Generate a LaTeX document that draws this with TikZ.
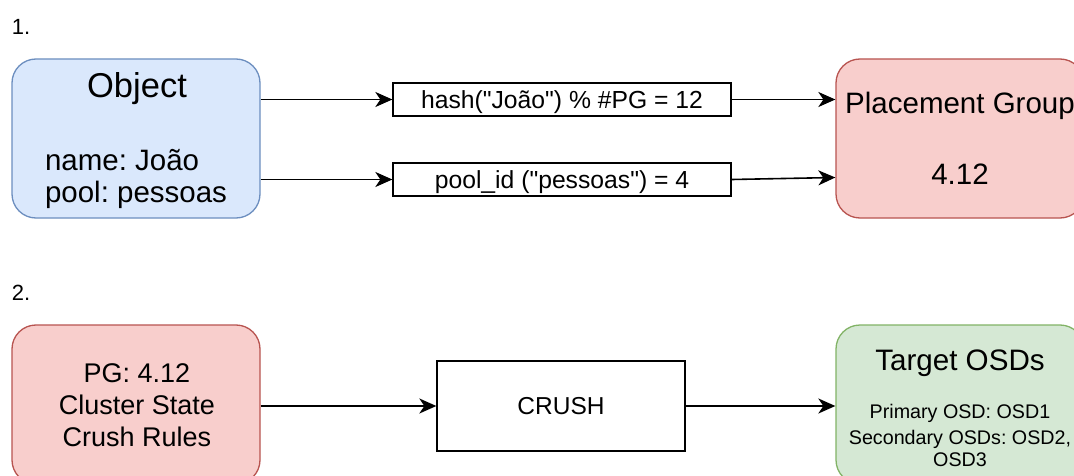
\documentclass[tikz,border=0pt]{standalone}
\usepackage{fontspec}
\setmainfont{Liberation Sans}[Ligatures=TeXOff]
\usetikzlibrary{arrows.meta}
\definecolor{bluefill}{HTML}{DAE8FC}
\definecolor{bluedraw}{HTML}{6C8EBF}
\definecolor{redfill}{HTML}{F8CECC}
\definecolor{reddraw}{HTML}{B85450}
\definecolor{greenfill}{HTML}{D5E8D4}
\definecolor{greendraw}{HTML}{82B366}
\newcommand\fsz[1]{\fontsize{#1}{#1}\selectfont}
\frenchspacing
\tikzset{
  bigbox/.style={rectangle, rounded corners=24pt, minimum width=248pt, minimum height=159pt, inner sep=0pt, line width=1.3pt},
  bluebox/.style={bigbox, fill=bluefill, draw=bluedraw},
  redbox/.style={bigbox, fill=redfill, draw=reddraw},
  greenbox/.style={bigbox, fill=greenfill, draw=greendraw},
  plainbox/.style={rectangle, draw=black, fill=white, line width=1.3pt, inner sep=0pt},
  txt/.style={inner sep=0pt, outer sep=0pt, anchor=base, text=black},
  txtl/.style={txt, anchor=base west},
  arr/.style={line width=1.6pt, draw=black, -{Stealth[length=17pt,width=15pt,inset=5pt]}},
}
\begin{document}
\begin{tikzpicture}[x=1pt,y=-1pt]
\clip (0,0) rectangle (1074,476);
\fill[white] (0,0) rectangle (1074,476);

% section labels
\node[txtl, font=\fsz{22}] (lab1) at (12,35) {1.};
\node[txtl, font=\fsz{22}] (lab2) at (12,300) {2.};

% boxes row 1
\node[bluebox] (obj) at (136,138.5) {};
\node[redbox] (pg) at (960,138.5) {};
\node[plainbox, minimum width=338pt, minimum height=33pt] (h1) at (562,99.5) {};
\node[plainbox, minimum width=338pt, minimum height=33pt] (h2) at (562,179.5) {};

% boxes row 2
\node[redbox] (pg2) at (136,404.5) {};
\node[plainbox, minimum width=248pt, minimum height=90pt] (crush) at (561,406) {};
\node[greenbox] (osd) at (960,404.5) {};

% texts row 1
\node[txt, font=\fsz{34.5}] (objT) at (137,98) {Object};
\node[txtl, font=\fsz{29.5}] (objN) at (45,171) {name: João};
\node[txtl, font=\fsz{29.5}] (objP) at (45,203) {pool: pessoas};
\node[txt, font=\fsz{24.7}] (h1T) at (562,109) {hash("João") \% \#PG = 12};
\node[txt, font=\fsz{24.7}] (h2T) at (562,189) {pool\_id ("pessoas") = 4};
\node[txt, font=\fsz{29.5}] (pgT) at (960,114) {Placement Group};
\node[txt, font=\fsz{29.5}] (pgN) at (960,185) {4.12};

% texts row 2
\node[txt, font=\fsz{27}] (pg2a) at (137,382) {PG: 4.12};
\node[txt, font=\fsz{27}] (pg2b) at (137,414) {Cluster State};
\node[txt, font=\fsz{27}] (pg2c) at (137,446) {Crush Rules};
\node[txt, font=\fsz{24.5}] (crushT) at (561,414) {CRUSH};
\node[txt, font=\fsz{29.6}] (osdT) at (960,370) {Target OSDs};
\node[txt, font=\fsz{19.7}] (osda) at (960,418) {Primary OSD: OSD1};
\node[txt, font=\fsz{19.7}] (osdb) at (960,444) {Secondary OSDs: OSD2,};
\node[txt, font=\fsz{19.7}] (osdc) at (960,466) {OSD3};

% connectors
\draw[arr] (h1.west -| obj.east) -- (h1.west);
\draw[arr] (h2.west -| obj.east) -- (h2.west);
\draw[arr] (h1.east) -- (h1.east -| pg.west);
\draw[arr] (h2.east) -- ([yshift=2pt]h2.east -| pg.west);
\draw[arr] (crush.west -| pg2.east) -- (crush.west);
\draw[arr] (crush.east) -- (crush.east -| osd.west);
\end{tikzpicture}
\end{document}
